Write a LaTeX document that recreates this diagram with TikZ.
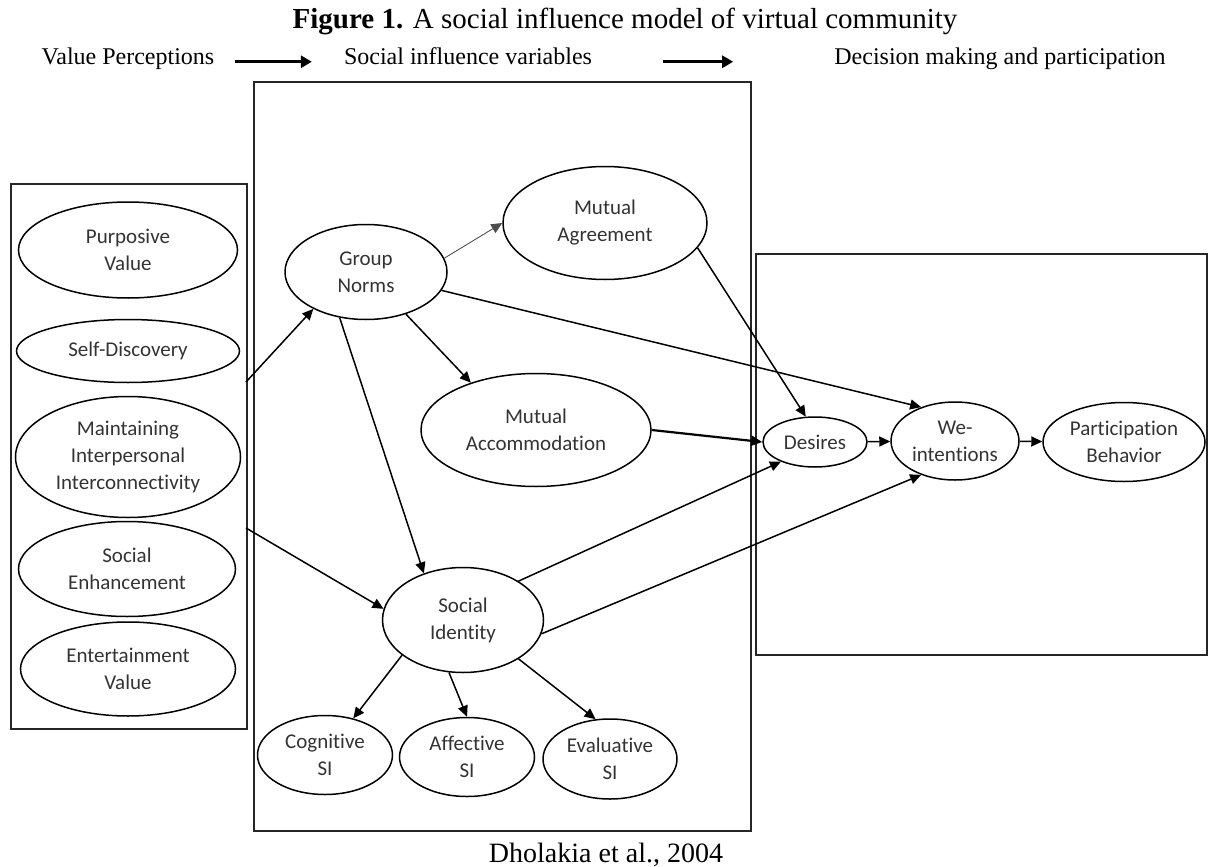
\documentclass[tikz,border=0pt]{standalone}
\usepackage{fontspec}
\setmainfont{Liberation Serif}
\newfontfamily\calfont[Ligatures=NoCommon]{Carlito}
\usetikzlibrary{shapes.geometric,arrows.meta}

\tikzset{
  var/.style={ellipse, draw=black, line width=1.5pt, inner sep=0pt, align=center,
    text=black!80, font=\calfont\fontsize{21}{27}\selectfont},
  frame/.style={draw=black!85, line width=1.8pt},
  link/.style={line width=1.5pt, -{Triangle[length=11pt,width=10pt]}},
  head/.style={font=\fontsize{24}{28}\selectfont, inner sep=0pt, text height=0.7em, text depth=0.25em},
  bigarrow/.style={line width=3.5pt, -{Triangle[length=11pt,width=12pt]}}
}

\begin{document}
\begin{tikzpicture}[x=1pt,y=-1pt]
\useasboundingbox (0,0) rectangle (1210,867);

% headings
\node[font=\fontsize{29}{32}\selectfont, anchor=base] (title) at (625,29) {\textbf{Figure 1.} A social influence model of virtual community};
\node[head, anchor=base] (hvp) at (128,64) {Value Perceptions};
\node[head, anchor=base] (hsiv) at (468,64) {Social influence variables};
\node[head, anchor=base] (hdm) at (1000,64) {Decision making and participation};
\draw[bigarrow, shorten <=20pt, shorten >=32pt] (hvp.east) -- (hsiv.west);
\draw[bigarrow, shorten <=71pt, shorten >=101pt] (hsiv.east) -- (hdm.west);

% boxes
\draw[frame] (11,184) rectangle (247,729);
\draw[frame] (254,82) rectangle (751,831);
\draw[frame] (756,254) rectangle (1207,655);

% value perceptions
\node[var, minimum width=219pt, minimum height=96pt] (purp) at (128,250) {Purposive\\Value};
\node[var, minimum width=223pt, minimum height=63pt] (selfd) at (128,351) {Self-Discovery};
\node[var, minimum width=225pt, minimum height=121pt] (maint) at (128,457) {Maintaining\\Interpersonal\\Interconnectivity};
\node[var, minimum width=217pt, minimum height=95pt] (senh) at (127,569) {Social\\Enhancement};
\node[var, minimum width=215pt, minimum height=94pt] (ent) at (128,669) {Entertainment\\Value};

% social influence variables
\node[var, minimum width=162pt, minimum height=95pt] (gn) at (366,272) {Group\\Norms};
\node[var, minimum width=204pt, minimum height=113pt] (magr) at (605,223) {Mutual\\Agreement};
\node[var, minimum width=230pt, minimum height=113pt] (macc) at (536,430) {Mutual\\Accommodation};
\node[var, minimum width=161pt, minimum height=105pt] (sid) at (463,620) {Social\\Identity};
\node[var, minimum width=135pt, minimum height=79pt] (cog) at (325,755) {Cognitive\\SI};
\node[var, minimum width=135pt, minimum height=79pt] (aff) at (467,757) {Affective\\SI};
\node[var, minimum width=134pt, minimum height=80pt] (eval) at (610,759) {Evaluative\\SI};

% decision making
\node[var, minimum width=104pt, minimum height=50pt] (des) at (815,442) {Desires};
\node[var, minimum width=128pt, minimum height=78pt] (wi) at (955,441) {We-\\intentions};
\node[var, minimum width=162pt, minimum height=79pt] (pb) at (1124,442) {Participation\\Behavior};

\node[font=\fontsize{28}{32}\selectfont, anchor=base] (src) at (606,862) {Dholakia et al., 2004};

% paths
\coordinate (vpout1) at (246,382);
\coordinate (vpout2) at (246,528);
\draw[link] (vpout1) -- (gn.215);
\draw[link] (vpout2) -- (sid.172);
\draw[link, line width=0.8pt, draw=black!70, fill=black] (gn.10) -- (magr.west);
\draw[link] (gn) -- (macc.144);
\draw[link] (gn.240) -- (sid.130);
\draw[link] (gn) -- (wi.135);
\draw[link] (magr.-15) -- (des.110);
\draw[link, line width=2.2pt] (macc.east) -- (des.west);
\draw[link] (sid.35) -- (des.210);
\draw[link] (sid.-10) -- (wi.225);
\draw[link] (des) -- (wi);
\draw[link] (wi) -- (pb);
\draw[link] (sid.210) -- (cog);
\draw[link] (sid.255) -- (aff.north);
\draw[link] (sid.-35) -- (eval.110);
\end{tikzpicture}
\end{document}
